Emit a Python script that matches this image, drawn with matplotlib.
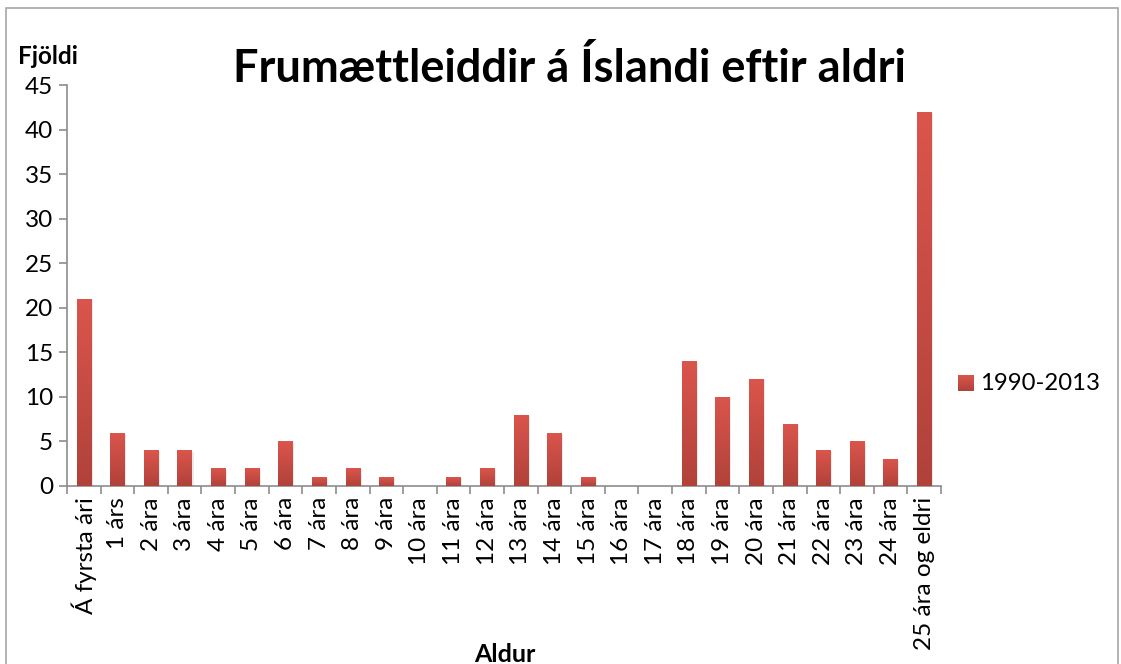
import numpy as np
import matplotlib.pyplot as plt
from matplotlib.patches import Rectangle

plt.rcParams['font.family'] = ['Lato', 'DejaVu Sans']

categories = ["Á fyrsta ári", "1 árs", "2 ára", "3 ára", "4 ára", "5 ára", "6 ára",
              "7 ára", "8 ára", "9 ára", "10 ára", "11 ára", "12 ára", "13 ára",
              "14 ára", "15 ára", "16 ára", "17 ára", "18 ára", "19 ára", "20 ára",
              "21 ára", "22 ára", "23 ára", "24 ára", "25 ára og eldri"]
values = [21, 6, 4, 4, 2, 2, 5, 1, 2, 1, 0, 1, 2, 8, 6, 1, 0, 0, 14, 10, 12, 7, 4, 5, 3, 42]
series_name = "1990-2013"
yticks = [0, 5, 10, 15, 20, 25, 30, 35, 40, 45]

top_col = np.array([0xdb, 0x55, 0x4c]) / 255
bot_col = np.array([0xb0, 0x42, 0x3a]) / 255
grad = np.linspace(0, 1, 256)[:, None, None]
grad_img = bot_col * (1 - grad) + top_col * grad  # row 0 = bottom

fig = plt.figure(figsize=(11.21, 6.64), dpi=100)
ax = fig.add_axes([67 / 1121, 1 - 486 / 664, (941 - 67) / 1121, (486 - 85) / 664])

x = np.arange(len(categories))
bars = ax.bar(x, values, width=0.43, color=top_col, zorder=2)
for b in bars:
    h = b.get_height()
    if h <= 0:
        continue
    x0 = b.get_x()
    w = b.get_width()
    # soft shadow
    ax.add_patch(Rectangle((x0 + 0.05, 0), w, h - 0.15, color='#000000', alpha=0.08, lw=0, zorder=1))
    im = ax.imshow(grad_img, extent=(x0, x0 + w, 0, h), origin='lower', aspect='auto', zorder=3)
    im.set_clip_path(b)

ax.set_xlim(-0.5, len(categories) - 0.5)
ax.set_ylim(0, 45)
ax.set_yticks(yticks)
ax.set_yticklabels([str(t) for t in yticks], fontsize=17.5)
ax.set_xticks(np.arange(len(categories) + 1) - 0.5, minor=False)
ax.set_xticklabels([])
ax.set_xticks(x, minor=True)
ax.set_xticklabels(categories, minor=True, rotation=90, fontsize=17.5)
ax.tick_params(axis='x', which='major', length=6, color='#8c8c8c', width=1.2)
ax.tick_params(axis='x', which='minor', length=0, pad=8)
ax.tick_params(axis='y', length=6, color='#8c8c8c', width=1.2, pad=4)

for s in ['top', 'right']:
    ax.spines[s].set_visible(False)
for s in ['left', 'bottom']:
    ax.spines[s].set_color('#8c8c8c')
    ax.spines[s].set_linewidth(1.2)

fig.text(569 / 1121, 1 - 68 / 664, "Frumættleiddir á Íslandi eftir aldri",
         ha='center', va='center', fontsize=32.5, fontweight='bold')
fig.text(18 / 1121, 1 - 56 / 664, "Fjöldi", ha='left', va='center', fontsize=17.5, fontweight='bold')
fig.text(505 / 1121, 1 - 654 / 664, "Aldur", ha='center', va='center', fontsize=18, fontweight='bold')

# legend
lax = fig.add_axes([958 / 1121, 1 - 391 / 664, 15 / 1121, 16 / 664])
lax.imshow(grad_img, extent=(0, 1, 0, 1), origin='lower', aspect='auto')
lax.axis('off')
fig.text(980 / 1121, 1 - 384 / 664, series_name, ha='left', va='center', fontsize=17.2)

# chart border
fig.add_artist(Rectangle((6 / 1121, -0.01), 1112 / 1121, 1 - 8 / 664 + 0.01,
                         transform=fig.transFigure, fill=False, ec='#a6a6a6', lw=1.2))

fig.savefig('out.png', dpi=100)
